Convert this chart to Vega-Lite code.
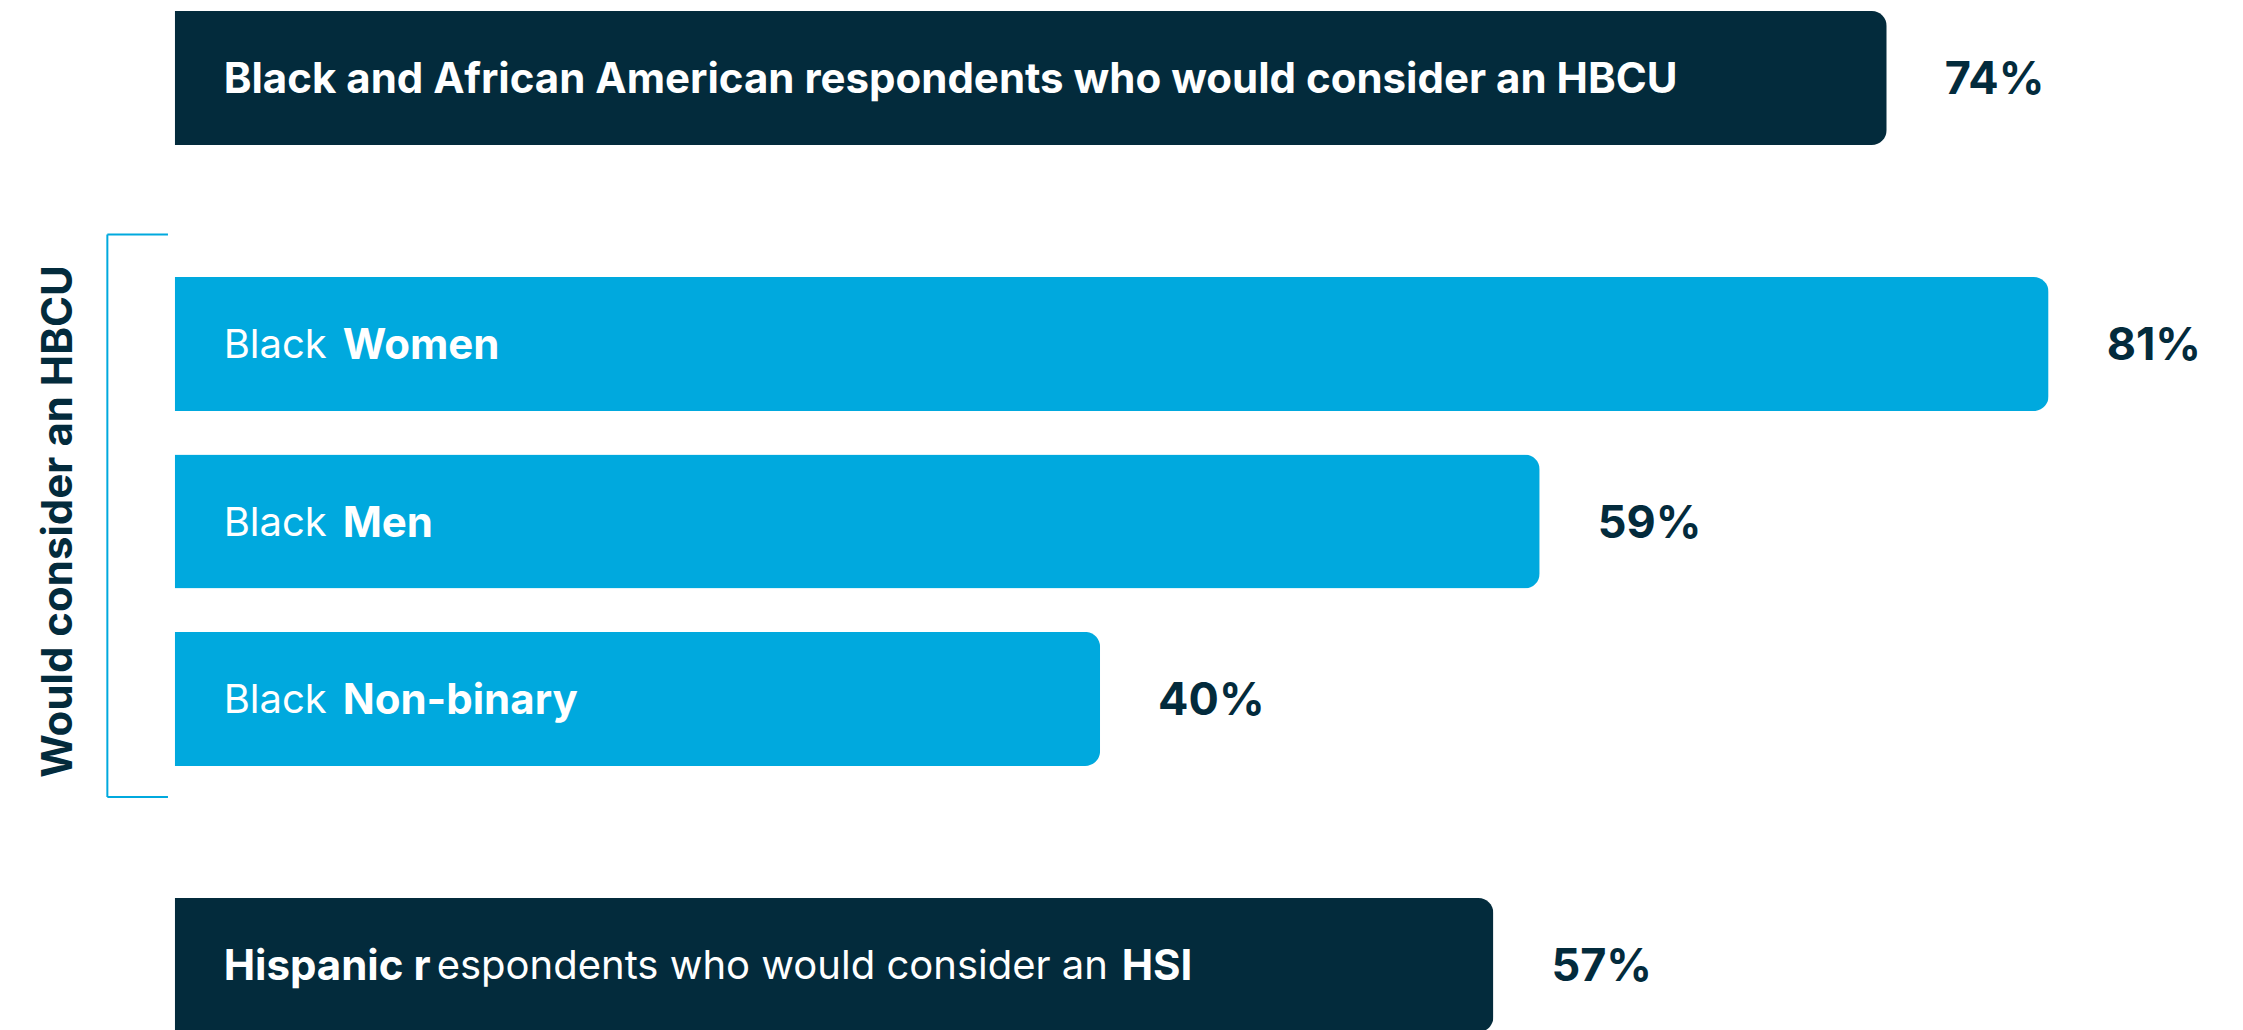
{
  "$schema": "https://vega.github.io/schema/vega-lite/v6.json",
  "width": 2243,
  "height": 1030,
  "autosize": {"type": "none"},
  "padding": 0,
  "background": "#ffffff",
  "config": {"view": {"stroke": null}, "font": "Inter"},
  "data": {
    "values": [
      {"key": "overall", "group": "overall", "value": 0.74, "emphasis": "Black and African American respondents who would consider an HBCU"},
      {"key": "women", "group": "gender", "value": 0.81, "prefix": "Black", "emphasis": "Women"},
      {"key": "men", "group": "gender", "value": 0.59, "prefix": "Black", "emphasis": "Men"},
      {"key": "nonbinary", "group": "gender", "value": 0.40, "prefix": "Black", "emphasis": "Non-binary"},
      {"key": "hispanic", "group": "hispanic", "value": 0.57, "emphasis": "Hispanic r", "middle": "espondents who would consider an", "suffix": "HSI"}
    ]
  },
  "encoding": {
    "y": {
      "field": "key",
      "type": "nominal",
      "axis": null,
      "scale": {
        "type": "point",
        "domain": ["overall", "gap1", "gap2", "women", "gap3", "men", "gap4", "nonbinary", "gap5", "gap6", "hispanic"],
        "padding": 0.806,
        "align": 0.5455
      }
    }
  },
  "layer": [
    {
      "mark": {"type": "bar", "height": 134, "cornerRadiusEnd": 15},
      "encoding": {
        "x": {"field": "value", "type": "quantitative", "axis": null, "scale": {"domain": [-0.0755, 0.894], "nice": false, "zero": false}},
        "color": {"field": "group", "type": "nominal", "legend": null, "scale": {"domain": ["overall", "gender", "hispanic"], "range": ["#032b3c", "#00a9de", "#032b3c"]}}
      }
    },
    {
      "transform": [{"filter": "datum.group === 'gender'"}],
      "mark": {"type": "text", "align": "left", "baseline": "middle", "dx": 49, "dy": 2, "fontSize": 40, "fontWeight": "normal", "color": "#ffffff"},
      "encoding": {"x": {"datum": 0}, "text": {"field": "prefix"}}
    },
    {
      "transform": [{"filter": "datum.group === 'gender'"}],
      "mark": {"type": "text", "align": "left", "baseline": "middle", "dx": 168, "dy": 2, "fontSize": 42, "fontWeight": "bold", "color": "#ffffff"},
      "encoding": {"x": {"datum": 0}, "text": {"field": "emphasis"}}
    },
    {
      "transform": [{"filter": "datum.group !== 'gender'"}],
      "mark": {"type": "text", "align": "left", "baseline": "middle", "dx": 49, "dy": 2, "fontSize": 42, "fontWeight": "bold", "color": "#ffffff"},
      "encoding": {"x": {"datum": 0}, "text": {"field": "emphasis"}}
    },
    {
      "transform": [{"filter": "datum.group === 'hispanic'"}],
      "mark": {"type": "text", "align": "left", "baseline": "middle", "dx": 262, "dy": 2, "fontSize": 40, "fontWeight": "normal", "color": "#ffffff"},
      "encoding": {"x": {"datum": 0}, "text": {"field": "middle"}}
    },
    {
      "transform": [{"filter": "datum.group === 'hispanic'"}],
      "mark": {"type": "text", "align": "left", "baseline": "middle", "dx": 947, "dy": 2, "fontSize": 42, "fontWeight": "bold", "color": "#ffffff"},
      "encoding": {"x": {"datum": 0}, "text": {"field": "suffix"}}
    },
    {
      "mark": {"type": "text", "align": "left", "baseline": "middle", "dx": 58, "dy": 2, "fontSize": 45, "fontWeight": "bold", "color": "#032b3c"},
      "encoding": {"x": {"field": "value", "type": "quantitative"}, "text": {"field": "value", "type": "quantitative", "format": ".0%"}}
    },
    {
      "data": {"values": [{}]},
      "mark": {"type": "rule", "color": "#00a9de", "strokeWidth": 2, "yOffset": -109.6, "y2Offset": 98.1},
      "encoding": {"x": {"datum": -0.0291}, "y": {"datum": "women"}, "y2": {"datum": "nonbinary"}}
    },
    {
      "data": {"values": [{}]},
      "mark": {"type": "rule", "color": "#00a9de", "strokeWidth": 2, "yOffset": -109.6},
      "encoding": {"x": {"datum": -0.0291}, "x2": {"datum": -0.0029}, "y": {"datum": "women"}}
    },
    {
      "data": {"values": [{}]},
      "mark": {"type": "rule", "color": "#00a9de", "strokeWidth": 2, "yOffset": 98.1},
      "encoding": {"x": {"datum": -0.0291}, "x2": {"datum": -0.0029}, "y": {"datum": "nonbinary"}}
    },
    {
      "data": {"values": [{}]},
      "mark": {"type": "text", "text": "Would consider an HBCU", "angle": 270, "align": "center", "baseline": "middle", "fontSize": 42, "fontWeight": "bold", "color": "#032b3c"},
      "encoding": {"x": {"datum": -0.0502}, "y": {"datum": "men"}}
    }
  ]
}
